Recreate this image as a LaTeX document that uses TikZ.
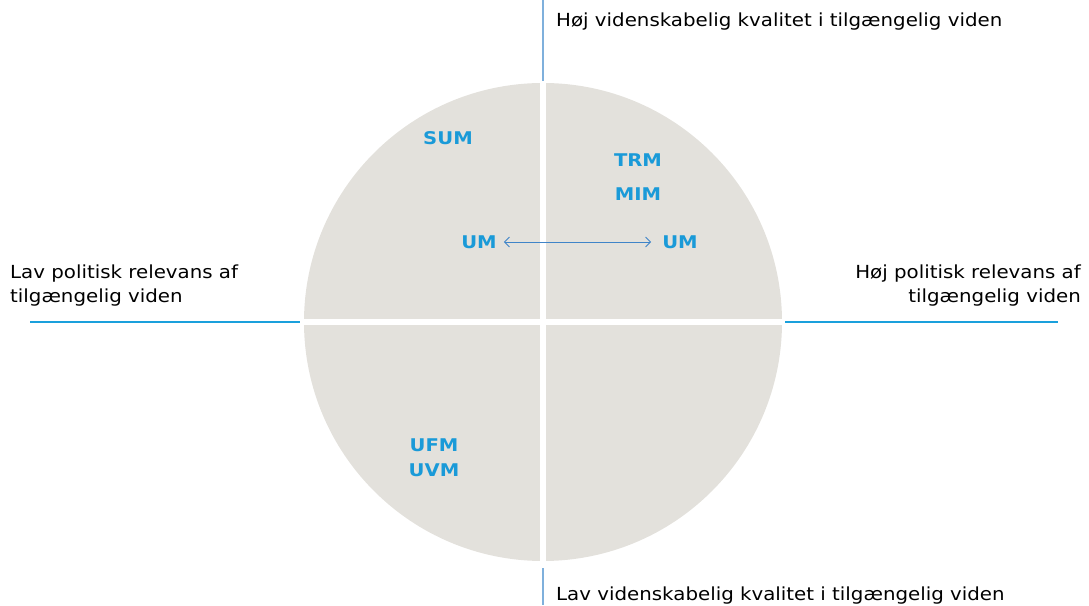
\documentclass[tikz,border=0pt]{standalone}
\usepackage{fontspec}
\setmainfont{DejaVu Sans}[FakeStretch=1.1]
\newfontfamily\lblfont{DejaVu Sans}[FakeStretch=1.12]
\usetikzlibrary{arrows.meta}
\definecolor{quadgray}{HTML}{E3E1DC}
\definecolor{lblblue}{HTML}{1A9AD8}
\definecolor{axcyan}{HTML}{1AA0DC}
\definecolor{axblue}{HTML}{7FB0DC}
\definecolor{arrblue}{HTML}{3F84C8}
\tikzset{
  lbl/.style={font=\lblfont\fontsize{17.5}{20}\selectfont\bfseries, text=lblblue, inner sep=0pt},
  axtxt/.style={font=\fontsize{18}{24}\selectfont, text=black, inner sep=0pt},
  gap/.style={white, line width=6.5pt},
}
\begin{document}
\begin{tikzpicture}[x=1pt,y=1pt]
\useasboundingbox (0,0) rectangle (1089,605);
% circle
\coordinate (c) at (543,283);
\fill[quadgray] (c) circle (239);
\draw[gap] (543,40) -- (543,530);
\draw[gap] (300,283) -- (786,283);
% axes
\coordinate (lt1) at (30,283); \coordinate (lt2) at (300,283);
\coordinate (rt1) at (785,283); \coordinate (rt2) at (1058,283);
\coordinate (tp1) at (543,605); \coordinate (tp2) at (543,524);
\coordinate (bt1) at (543,37); \coordinate (bt2) at (543,0);
\draw[axcyan, line width=1.3pt] (lt1) -- (lt2);
\draw[axcyan, line width=1.3pt] (rt1) -- (rt2);
\draw[axblue, line width=1.3pt] (tp1) -- (tp2);
\draw[axblue, line width=1.3pt] (bt1) -- (bt2);
% axis labels
\node[axtxt, anchor=base west] (top) at (556,578) {Høj videnskabelig kvalitet i tilgængelig viden};
\node[axtxt, anchor=base west] (bot) at (556,5) {Lav videnskabelig kvalitet i tilgængelig viden};
\node[axtxt, anchor=base west] (left1) at (10,326) {Lav politisk relevans af};
\node[axtxt, anchor=base west] (left2) at (10,302) {tilgængelig viden};
\node[axtxt, anchor=base east] (right1) at (1081,326) {Høj politisk relevans af};
\node[axtxt, anchor=base east] (right2) at (1081,302) {tilgængelig viden};
% ministry labels
\node[lbl] (sum) at (448,467) {SUM};
\node[lbl] (trm) at (638,445) {TRM};
\node[lbl] (mim) at (638,411) {MIM};
\node[lbl] (uml) at (479,363) {UM};
\node[lbl] (umr) at (680,363) {UM};
\node[lbl] (ufm) at (434,160) {UFM};
\node[lbl] (uvm) at (434,135) {UVM};
\draw[arrblue, line width=0.8pt, {Straight Barb[length=5pt,width=10pt]}-{Straight Barb[length=5pt,width=10pt]}] ([xshift=7pt]uml.east) -- ([xshift=-11pt]umr.west);
\end{tikzpicture}
\end{document}
